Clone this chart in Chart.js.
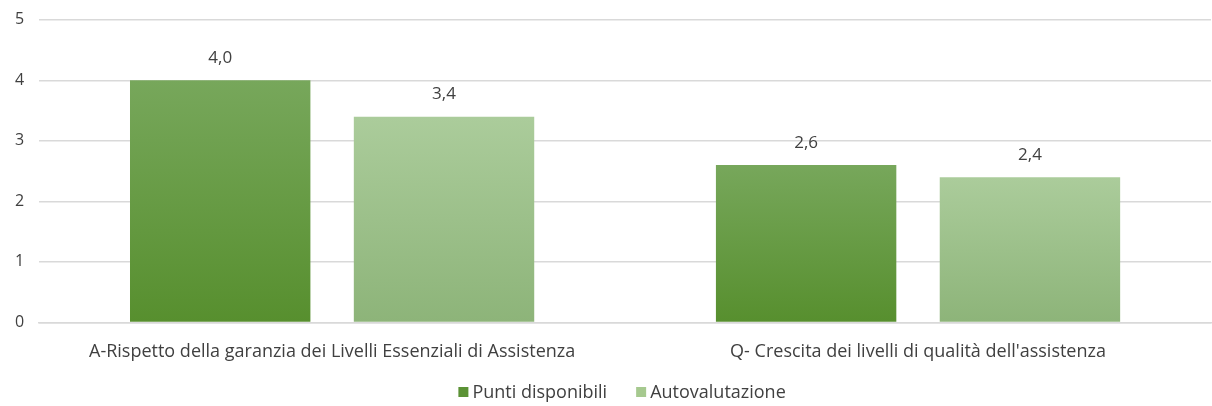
<!DOCTYPE html>
<html>
<head>
<meta charset="utf-8">
<script src="https://cdn.jsdelivr.net/npm/chart.js@4.4.1/dist/chart.umd.min.js"></script>
<style>
    body { margin: 0; background: #fff; }
    #wrap { width: 1212px; height: 406px; }
</style>
</head>
<body>
<div id="wrap"><canvas id="chart"></canvas></div>
<script>
// data
var categories = ["A-Rispetto della garanzia dei Livelli Essenziali di Assistenza", "Q- Crescita dei livelli di qualità dell'assistenza"];
var seriesNames = ["Punti disponibili", "Autovalutazione"];
var puntiDisponibili = [4.0, 2.6];
var autovalutazione = [3.4, 2.4];
var yTicks = [0, 1, 2, 3, 4, 5];

var FONT = "'Open Sans', Lato, sans-serif";
var TEXT = "#404040";

// gradient colours for each series (top, bottom)
var gradColors = [
    ["#77a75b", "#578f2e"],
    ["#abcc9b", "#8db479"]
];
var legendColors = ["#5b9235", "#a6c98f"];

function barGradient(idx) {
    return function (context) {
        var chart = context.chart;
        if (!chart.chartArea || context.raw === undefined) {
            return legendColors[idx];
        }
        var y = chart.scales.y;
        var top = y.getPixelForValue(context.raw);
        var bottom = y.getPixelForValue(0);
        var g = chart.ctx.createLinearGradient(0, top, 0, bottom);
        g.addColorStop(0, gradColors[idx][0]);
        g.addColorStop(1, gradColors[idx][1]);
        return g;
    };
}

//draw the values above the bars
var valueLabels = {
    id: 'valueLabels',
    afterDatasetsDraw: function (chart) {
        var ctx = chart.ctx;
        ctx.save();
        ctx.font = "17px " + FONT;
        ctx.fillStyle = TEXT;
        ctx.textAlign = "center";
        ctx.textBaseline = "middle";
        chart.data.datasets.forEach(function (ds, i) {
            var meta = chart.getDatasetMeta(i);
            meta.data.forEach(function (bar, j) {
                var txt = ds.data[j].toFixed(1).replace('.', ',');
                ctx.fillText(txt, bar.x, bar.y - 22);
            });
        });
        ctx.restore();
    }
};

//legend at the bottom, Excel style (small squares, wide gap)
var bottomLegend = {
    id: 'bottomLegend',
    afterDraw: function (chart) {
        var ctx = chart.ctx;
        var box = 10, gapText = 4, gapItem = 29;
        ctx.save();
        ctx.font = "18px " + FONT;
        ctx.textBaseline = "middle";
        ctx.textAlign = "left";
        var widths = chart.data.datasets.map(function (ds) { return ctx.measureText(ds.label).width; });
        var total = 0;
        widths.forEach(function (w, i) { total += box + gapText + w + (i > 0 ? gapItem : 0); });
        var area = chart.chartArea;
        var x = (area.left + area.right) / 2 - 3 - total / 2;
        var y = chart.height - 14;
        chart.data.datasets.forEach(function (ds, i) {
            ctx.fillStyle = legendColors[i];
            ctx.fillRect(x, y - box / 2, box, box);
            x += box + gapText;
            ctx.fillStyle = TEXT;
            ctx.fillText(ds.label, x, y + 1);
            x += widths[i] + gapItem;
        });
        ctx.restore();
    }
};

var chart = new Chart(document.getElementById("chart"), {
    type: 'bar',
    data: {
        labels: categories,
        datasets: [{
            label: seriesNames[0],
            data: puntiDisponibili,
            backgroundColor: barGradient(0),
            borderWidth: 0,
            categoryPercentage: 0.764,
            barPercentage: 0.806
        }, {
            label: seriesNames[1],
            data: autovalutazione,
            backgroundColor: barGradient(1),
            borderWidth: 0,
            categoryPercentage: 0.764,
            barPercentage: 0.806
        }]
    },
    options: {
        responsive: true,
        maintainAspectRatio: false,
        animation: false,
        layout: {
            padding: { top: 0, left: 0, right: 1, bottom: 24 }
        },
        plugins: {
            tooltip: { enabled: false },
            legend: { display: false }
        },
        scales: {
            x: {
                grid: { display: false, drawTicks: false },
                border: { display: true, color: "#d9d9d9", width: 1.5 },
                ticks: {
                    color: TEXT,
                    font: { family: FONT, size: 18 },
                    padding: 19,
                    maxRotation: 0,
                    autoSkip: false
                }
            },
            y: {
                min: yTicks[0],
                max: yTicks[yTicks.length - 1],
                afterBuildTicks: function (axis) {
                    axis.ticks = yTicks.map(function (v) { return { value: v }; });
                },
                grid: { color: "#d9d9d9", lineWidth: 1.5, drawTicks: false },
                border: { display: false },
                ticks: {
                    color: TEXT,
                    font: { family: FONT, size: 16, lineHeight: 0.6 },
                    padding: 15
                }
            }
        }
    },
    plugins: [valueLabels, bottomLegend]
});
</script>
</body>
</html>
